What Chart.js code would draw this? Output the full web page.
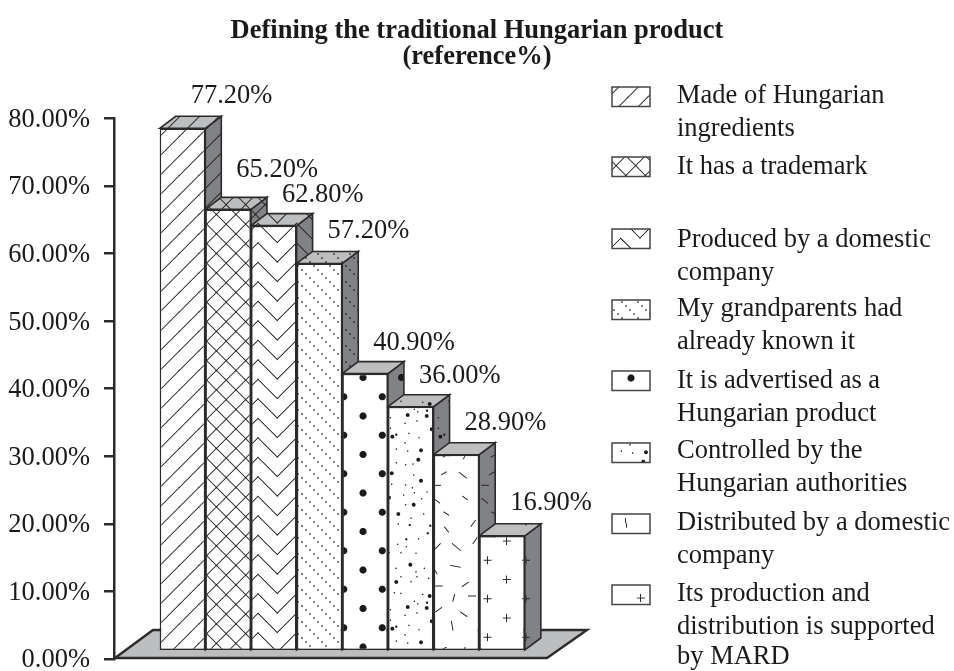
<!DOCTYPE html>
<html>
<head>
<meta charset="utf-8">
<title>Defining the traditional Hungarian product</title>
<script src="https://cdn.jsdelivr.net/npm/chart.js@4"></script>
<style>
    html, body { margin: 0; background: #fff; }
    canvas { display: block; }
</style>
</head>
<body>
<canvas id="chart" width="954" height="671"></canvas>
<script>
const titleLines = ["Defining the traditional Hungarian product", "(reference%)"];
const categories = [
    ["Made of Hungarian", "ingredients"],
    ["It has a trademark"],
    ["Produced by a domestic", "company"],
    ["My grandparents had", "already known it"],
    ["It is advertised as a", "Hungarian product"],
    ["Controlled by the", "Hungarian authorities"],
    ["Distributed by a domestic", "company"],
    ["Its production and", "distribution is supported", "by MARD"],
];
const values = [77.2, 65.2, 62.8, 57.2, 40.9, 36.0, 28.9, 16.9];
const axisMax = 80;
const axisStep = 10;

// layout
const FONT = "'Liberation Serif', 'Times New Roman', serif";
const TEXT = "#1a1a1a";
const LINE = "#2b2b2b";
const SIDE_GREY = "#808285";
const TOP_GREY = "#bcbec0";
const DEPTH_X = 16, DEPTH_Y = 12;
const labelShift = 49;
const labelLift = [32, 39, 31, 32, 31, 31, 32, 33];
const swatchTops = [87, 157, 229, 300, 371, 443, 514, 585];
const swatchShift = [[0, 0], [0, 0], [362.7, -180], [0, 0], [268, -38], [225, 2], [173.8, -103], [134, 57]];
const textBaselines = [
    [103, 136], [174], [247, 280], [316, 349], [388, 421], [458, 491], [530, 563], [601, 634, 664],
];

const SAND = [
    [20.7,8,3],[30.7,4.7,1],[27.3,2.3,1],[39.7,9,3],[40,3.7,2],[3.3,10.7,1],[18,16.3,1],[30,14,1],[3.3,21.3,1],
    [44.7,22.3,3],[5.3,29.7,3],[9.3,27.7,2],[22,26.3,1],[32,30.7,1],[18,35.7,1],[9.3,42,1],[20.7,44,1],[34,43.3,3],
    [31.3,52.7,3],[9.3,55.7,1],[18.7,57.7,1],[26,57,1],[4.7,66.3,3],[26.7,68,1],[34,73.7,3],[4.7,77.3,1],[18.7,78,1],
    [25.3,80.7,1],[27.3,85.7,1],[40,85,1],[2,90.7,3],[16.7,88,1],[34.7,91.7,1],[18.7,97.7,1],[26.7,97.7,3],[1.3,102.3,1],
    [11.3,107,3],[36.7,107,1],[24,111,1],[22.7,118,2],[11.3,117,1],[43.3,118.7,2],[19.3,132.3,2],[40.7,126.3,2],
    [31.7,131.7,1],[10.7,137.3,1],[19.3,139.7,1],[29,146.3,1],[14,145.7,1],[2.3,145.7,1],[23.3,157.7,3],[9,161.3,1],
    [37.3,161.3,1],[29,164.7,1],[14,169.7,1],[30,169.7,1],[24,174.7,1],[9.3,175,3],[0.7,174,1],[41.7,171.3,1],
    [14,186.3,1],[7.3,185.7,1],[42.7,189,3],[35.7,187.3,1],
];
const DASHES = [
    [9.7,2.3,13.7,0],[30.3,4.3,32.3,0],[8,20,13.7,16.7],[26,17.3,33.7,23.3],[0.3,30.3,8,30.3],[0.3,43.3,7,48.3],
    [29.3,41,34.7,45],[10.3,56.7,16,60.3],[37.7,71.7,42.7,65],[11.3,71.7,15.7,77.3],[39.7,89,44.3,82.3],[1,95,7.7,88.3],
    [19,88.3,27.7,95.7],[17,110.3,27.7,112.3],[0,111.7,4.3,119.3],[1,131,9.7,131],[29,131.7,35.7,127],[19.7,146.7,21.7,139],
    [35,141,43,141],[2,157.3,9,152.3],[27,156.7,34.3,161.7],[18.3,166,20,175.7],
];

function seg(c, x1, y1, x2, y2) {
    c.beginPath();
    c.moveTo(x1, y1);
    c.lineTo(x2, y2);
    c.stroke();
}

function dot(c, x, y, r) {
    c.beginPath();
    c.arc(x, y, r, 0, Math.PI * 2);
    c.fill();
}

const T = 38.5, H = 19.25;

// one entry per bar: tile size, where the tile starts on screen, how to paint it
const tileDefs = [
    { w: H, h: H, ox: 4, oy: 0, paint(c) {
        for (const k of [-H, 0, H]) seg(c, k - 1, H + 1, k + H + 1, -1);
    } },
    { w: H, h: H, ox: 2, oy: 0, paint(c) {
        for (const k of [-H, 0, H]) {
            seg(c, k - 1, H + 1, k + H + 1, -1);
            seg(c, k - 1, -1, k + H + 1, H + 1);
        }
    } },
    { w: T, h: H, ox: 258, oy: 418.3, paint(c) {
        for (const k of [-H, 0, H]) {
            c.beginPath();
            c.moveTo(-1, k - 1);
            c.lineTo(H, k + H);
            c.lineTo(T + 1, k - 1);
            c.stroke();
        }
    } },
    { w: 16, h: 16, ox: 0, oy: 0, paint(c) {
        for (const p of [2, 6, 10, 14]) dot(c, p, p, 0.85);
    } },
    { w: T, h: T, ox: 363, oy: 416, paint(c) {
        for (const [x, y] of [[0, 0], [T, 0], [0, T], [T, T], [H, H]]) dot(c, x, y, 3.6);
    } },
    { w: 48, h: 192, ox: 387, oy: 407, paint(c) {
        for (const [x, y, s] of SAND) dot(c, x, y, [0, 0.75, 1.15, 1.9][s]);
    } },
    { w: 48, h: 192, ox: 433, oy: 455, paint(c) {
        for (const [x1, y1, x2, y2] of DASHES) seg(c, x1, y1, x2, y2);
    } },
    { w: T, h: T, ox: 506.7, oy: 541, paint(c) {
        for (const [x, y] of [[0, 0], [T, 0], [0, T], [T, T], [H, H]]) {
            seg(c, x - 4, y, x + 4, y);
            seg(c, x, y - 4, x, y + 4);
        }
    } },
];

function makePattern(def, background) {
    const tile = document.createElement("canvas");
    tile.width = Math.round(def.w * 2);
    tile.height = Math.round(def.h * 2);
    const c = tile.getContext("2d");
    if (background) {
        c.fillStyle = background;
        c.fillRect(0, 0, tile.width, tile.height);
    }
    c.scale(2, 2);
    c.strokeStyle = "#222";
    c.fillStyle = "#1a1a1a";
    c.lineWidth = 0.95;
    def.paint(c);
    const pattern = c.createPattern(tile, "repeat");
    pattern.setTransform(new DOMMatrix().translate(def.ox, def.oy).scale(0.5));
    return pattern;
}

const barPatterns = tileDefs.map(d => makePattern(d, "#fff"));
const facePatterns = tileDefs.map(d => makePattern(d, null));

function polygon(ctx, points, fill, pattern) {
    ctx.beginPath();
    points.forEach(([x, y], i) => (i ? ctx.lineTo(x, y) : ctx.moveTo(x, y)));
    ctx.closePath();
    ctx.fillStyle = fill;
    ctx.fill();
    if (pattern) {
        ctx.fillStyle = pattern;
        ctx.fill();
    }
    ctx.stroke();
}

// floor plate and the side and top faces that sit behind the library's bars
const depthPlugin = {
    id: "depth",
    beforeDatasetsDraw(chart) {
        const { ctx, chartArea } = chart;
        const left = chartArea.left + 1, bottom = chartArea.bottom - 1;
        ctx.save();
        ctx.lineJoin = "miter";
        ctx.strokeStyle = LINE;
        ctx.lineWidth = 2.4;
        polygon(ctx, [[left, bottom], [left + 38, bottom - 28], [left + 472, bottom - 28], [left + 432, bottom]], TOP_GREY);
        ctx.lineWidth = 1.6;
        const bars = chart.getDatasetMeta(0).data.slice(1, -1);
        bars.forEach((bar, i) => {
            const xL = bar.x - bar.width / 2, xR = bar.x + bar.width / 2;
            polygon(ctx, [[xR, bar.y], [xR + DEPTH_X, bar.y - DEPTH_Y], [xR + DEPTH_X, bar.base - DEPTH_Y], [xR, bar.base]], SIDE_GREY, facePatterns[i]);
            polygon(ctx, [[xL, bar.y], [xL + DEPTH_X, bar.y - DEPTH_Y], [xR + DEPTH_X, bar.y - DEPTH_Y], [xR, bar.y]], TOP_GREY, facePatterns[i]);
        });
        ctx.restore();
    },
    afterDatasetsDraw(chart) {
        const { ctx } = chart;
        ctx.save();
        ctx.font = "26.5px " + FONT;
        ctx.fillStyle = TEXT;
        ctx.textAlign = "center";
        ctx.textBaseline = "middle";
        chart.getDatasetMeta(0).data.slice(1, -1).forEach((bar, i) => {
            ctx.fillText(values[i].toFixed(2) + "%", bar.x + labelShift, bar.y - labelLift[i]);
        });
        ctx.restore();
    },
};

// legend is laid out by hand, the entries wrap and their spacing is uneven
const sideLegend = {
    id: "sideLegend",
    afterDraw(chart) {
        const { ctx } = chart;
        ctx.save();
        categories.forEach((lines, i) => {
            const top = swatchTops[i];
            ctx.fillStyle = "#fff";
            ctx.fillRect(612, top, 38, 19.5);
            ctx.save();
            ctx.beginPath();
            ctx.rect(612, top, 38, 19.5);
            ctx.clip();
            ctx.translate(swatchShift[i][0], swatchShift[i][1]);
            ctx.fillStyle = facePatterns[i];
            ctx.fillRect(-400, -400, 1400, 1400);
            ctx.restore();
            ctx.strokeStyle = "#444";
            ctx.lineWidth = 1.5;
            ctx.strokeRect(612, top, 38, 19.5);

            ctx.font = "26.5px " + FONT;
            ctx.fillStyle = TEXT;
            ctx.textBaseline = "alphabetic";
            lines.forEach((line, k) => ctx.fillText(line, 677, textBaselines[i][k]));
        });
        ctx.restore();
    },
};

new Chart(document.getElementById("chart"), {
    type: "bar",
    data: {
        // an empty slot either side keeps the bars off the axis
        labels: ["", ...categories.map(lines => lines.join(" ")), ""],
        datasets: [{
            data: [null, ...values, null],
            yAxisID: "yBars",
            backgroundColor: ["#fff", ...barPatterns, "#fff"],
            borderColor: LINE,
            borderWidth: 1.6,
            borderSkipped: false,
            barPercentage: 1,
            categoryPercentage: 1,
            inflateAmount: 0,
        }],
    },
    options: {
        responsive: false,
        animation: false,
        layout: { padding: { bottom: 12 } },
        plugins: {
            legend: { display: false },
            tooltip: { enabled: false },
            title: {
                display: true,
                text: titleLines,
                color: TEXT,
                font: { family: FONT, size: 26.5, weight: "bold", lineHeight: 0.95 },
                padding: { top: 19, bottom: 49 },
            },
        },
        scales: {
            x: { display: false },
            y: {
                min: 0,
                max: axisMax,
                afterFit(scale) {
                    scale.width = 114;
                    // the tick label padding would otherwise push the zero line up
                    scale.paddingTop = scale.paddingBottom = 0;
                },
                border: { color: LINE, width: 2.5 },
                grid: { drawOnChartArea: false, color: LINE, lineWidth: 2.5, tickLength: 10 },
                ticks: {
                    stepSize: axisStep,
                    padding: 14,
                    labelOffset: 1.5,
                    color: TEXT,
                    font: { family: FONT, size: 26.5 },
                    callback: v => v.toFixed(2) + "%",
                },
            },
            // same units as y, the bars stand on the plate 9px above the axis zero
            yBars: {
                position: "right",
                min: -1.33,
                max: 78.67,
                afterFit(scale) { scale.width = 383.5; },
                border: { display: false },
                grid: { display: false },
                ticks: { display: false },
            },
        },
    },
    plugins: [depthPlugin, sideLegend],
});
</script>
</body>
</html>
